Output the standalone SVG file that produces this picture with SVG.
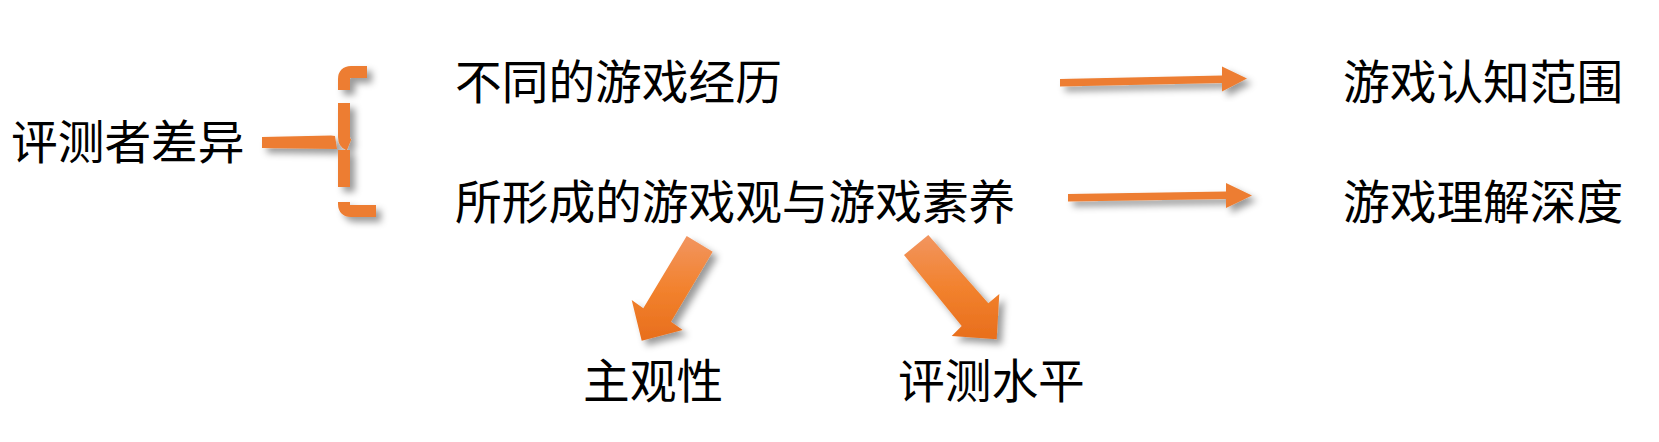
<svg xmlns="http://www.w3.org/2000/svg" width="1659" height="442" viewBox="0 0 1659 442">
  <style>
    .t { font-family: "Noto Sans CJK SC", "Noto Sans CJK JP", sans-serif; font-size: 46.7px; fill: #000; }
    .o { fill: #ED7D31; }
    .br { fill: none; stroke: #ED7D31; stroke-width: 12; stroke-linecap: butt; }
  </style>
  <defs>
    <filter id="sh" x="-30%" y="-30%" width="170%" height="170%">
      <feDropShadow dx="5" dy="5" stdDeviation="3.5" flood-color="#000" flood-opacity="0.4"/>
    </filter>
    <linearGradient id="g1" x1="0" y1="0" x2="0" y2="1">
      <stop offset="0" stop-color="#F29560"/>
      <stop offset="0.5" stop-color="#F2822E"/>
      <stop offset="1" stop-color="#E86E1C"/>
    </linearGradient>
  </defs>
  <rect width="1659" height="442" fill="#fff"/>

  <g id="connectors">
    <g id="brace" filter="url(#sh)">
      <polygon class="o" points="262,137 331,135.5 335,136 337,149 262,148"/>
      <path class="br" d="M367 72 H351 Q344 72 344 79 V90"/>
      <path class="br" d="M344 103 V137 Q344 143 349 145"/>
      <path class="br" d="M344 150 V187"/>
      <path class="br" d="M344 202 V204 Q344 211 351 211 H376"/>
    </g>
    <polygon class="o" filter="url(#sh)" points="1060,79 1222,75.5 1222,66.5 1247,78.5 1222,91.5 1222,83 1060,86.5"/>
    <polygon class="o" filter="url(#sh)" points="1068,194 1226,191.5 1226,183 1252,195.5 1226,208 1226,199 1068,201.5"/>
    <polygon fill="url(#g1)" filter="url(#sh)" points="686.7,236 712.7,251.7 671,321.7 682.7,330 641.7,340.7 631.7,300 643.3,308.3"/>
    <polygon fill="url(#g1)" filter="url(#sh)" points="904,255 928.3,235 988.3,303.3 999.3,294 996.7,339.3 951.7,336 961.7,326"/>
  </g>

  <g id="n-source"><text class="t" x="11" y="159">评测者差异</text></g>
  <g id="n-exp"><text class="t" x="455" y="99">不同的游戏经历</text></g>
  <g id="n-view"><text class="t" x="455" y="219">所形成的游戏观与游戏素养</text></g>
  <g id="n-range"><text class="t" x="1343" y="99">游戏认知范围</text></g>
  <g id="n-depth"><text class="t" x="1343" y="219">游戏理解深度</text></g>
  <g id="n-subj"><text class="t" x="583" y="398">主观性</text></g>
  <g id="n-level"><text class="t" x="898" y="398">评测水平</text></g>
</svg>
